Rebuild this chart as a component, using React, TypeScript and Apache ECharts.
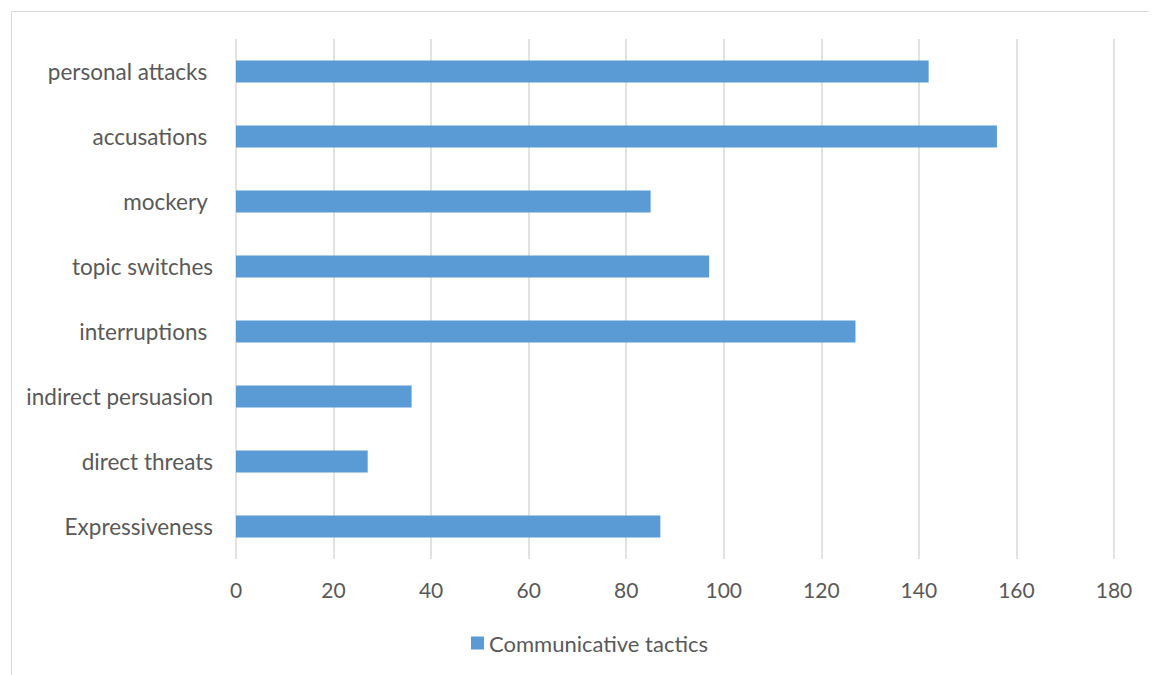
import React, { useEffect, useRef } from "react";
import * as echarts from "echarts";

const categories = [
  "Expressiveness",
  "direct threats",
  "indirect persuasion",
  "interruptions ",
  "topic switches",
  "mockery ",
  "accusations ",
  "personal attacks ",
];
const values = [87, 27, 36, 127, 97, 85, 156, 142];
const seriesName = "Communicative tactics";

export default function App() {
  const ref = useRef<HTMLDivElement>(null);
  useEffect(() => {
    if (!ref.current) return;
    const chart = echarts.init(ref.current, undefined, { renderer: "svg" });
    const font = "Lato, 'Open Sans', sans-serif";
    chart.setOption({
      animation: false,
      backgroundColor: "#ffffff",
      textStyle: { fontFamily: font },
      graphic: [
        {
          type: "rect",
          left: 1,
          top: 1,
          shape: { width: 3000, height: 3000 },
          style: { fill: "none", stroke: "#d9d9d9", lineWidth: 1 },
          silent: true,
          z: -10,
        },
      ],
      grid: { left: 228, right: 43, top: 31, bottom: 116, containLabel: false },
      legend: {
        left: 458,
        top: 619,
        icon: "rect",
        itemWidth: 13,
        itemHeight: 13,
        itemGap: 6,
        textStyle: { color: "#595959", fontSize: 22, fontFamily: font },
        data: [seriesName],
      },
      xAxis: {
        type: "value",
        min: 0,
        max: 180,
        interval: 20,
        axisLine: { show: false },
        axisTick: { show: false },
        splitLine: { show: true, lineStyle: { color: "#d9d9d9", width: 1.5 } },
        axisLabel: { color: "#595959", fontSize: 21, margin: 20, fontFamily: font },
      },
      yAxis: {
        type: "category",
        data: categories,
        axisLine: { show: false },
        axisTick: { show: false },
        axisLabel: { color: "#595959", fontSize: 22.5, margin: 23, fontFamily: font },
      },
      series: [
        {
          name: seriesName,
          type: "bar",
          data: values,
          barWidth: "34%",
          itemStyle: { color: "#5b9bd5" },
        },
      ],
    });
    return () => chart.dispose();
  }, []);
  return <div ref={ref} style={{ width: 1149, height: 667 }} />;
}
